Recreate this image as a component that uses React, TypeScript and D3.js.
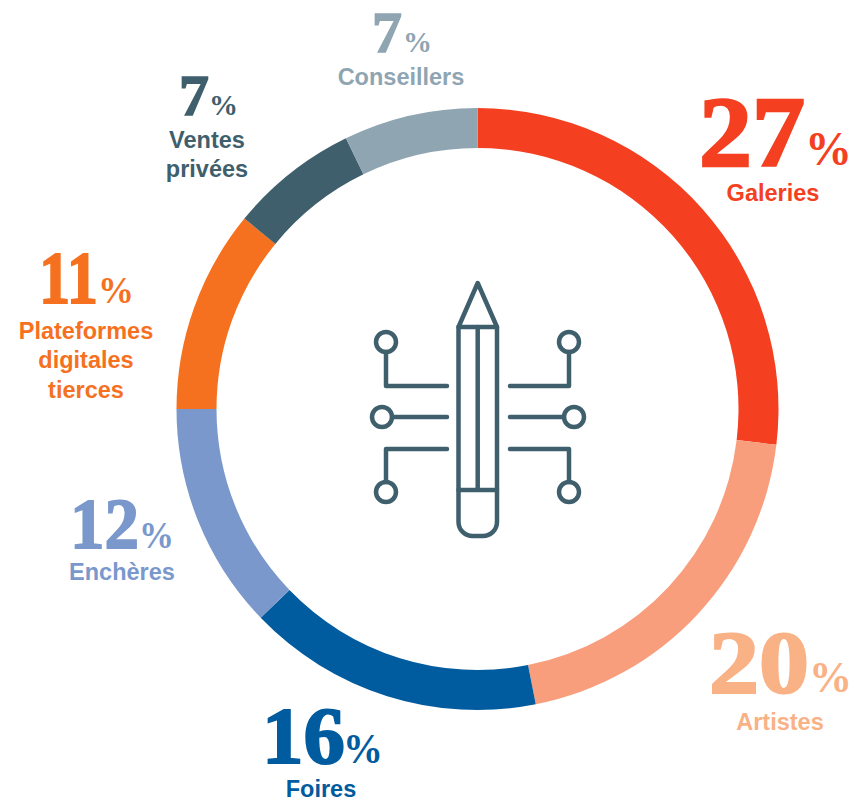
import React from "react";
import * as d3 from "d3";

const categories = ["Galeries", "Artistes", "Foires", "Enchères", "Plateformes digitales tierces", "Ventes privées", "Conseillers"];
const shares = [27, 20, 16, 12, 11, 7, 7];
// the ring's slices as measured on the picture (they differ slightly from the rounded labels)
const drawnShares = [26.9, 20.0, 15.9, 12.2, 10.9, 6.9, 7.2];
const colors = ["#f44021", "#f89e7d", "#005b9f", "#7a98cb", "#f6711f", "#3f5f6d", "#8fa5b2"];
const labelColors = ["#f44021", "#f9b186", "#005b9f", "#7a98cb", "#f6711f", "#3f5f6d", "#8fa5b2"];
const labelLines = [["Galeries"], ["Artistes"], ["Foires"], ["Enchères"], ["Plateformes", "digitales", "tierces"], ["Ventes", "privées"], ["Conseillers"]];

// layout of each label: number x/baseline/size/width; % x/size/width; text centre x and baselines
const labelLayout = [
  { nx: 699, ny: 165, ns: 100, nw: 106, px: 805, ps: 48, pw: 47, tx: 773, ty: [201] },
  { nx: 709, ny: 692, ns: 88, nw: 100, px: 809, ps: 44, pw: 43, tx: 780, ty: [730] },
  { nx: 262, ny: 763, ns: 81, nw: 83, px: 343, ps: 42, pw: 40, tx: 321, ty: [797] },
  { nx: 70, ny: 548, ns: 71, nw: 69, px: 139, ps: 37, pw: 35, tx: 122, ty: [580] },
  { nx: 39, ny: 303, ns: 74, nw: 59, px: 98, ps: 38, pw: 36, tx: 86, ty: [339, 368, 398] },
  { nx: 179, ny: 115, ns: 57, nw: 30, px: 209, ps: 30, pw: 29, tx: 207, ty: [148, 177] },
  { nx: 372, ny: 52, ns: 57, nw: 30, px: 403, ps: 30, pw: 29, tx: 401, ty: [85] },
];

const cx = 477.5;
const cy = 409;
const outerR = 301;
const innerR = 261;
const iconColor = "#3f5f6d";

const pie = d3.pie<number>().sort(null).value((d) => d);
const arc = d3.arc<d3.PieArcDatum<number>>().innerRadius(innerR).outerRadius(outerR);
const arcs = pie(drawnShares);

const serif = "'Liberation Serif', serif";
const sans = "'Liberation Sans', sans-serif";

function Icon() {
  const common = { fill: "none", stroke: iconColor, strokeWidth: 4.5, strokeLinecap: "round" as const, strokeLinejoin: "round" as const };
  const nodes = [[386, 342], [569, 342], [382, 417], [574, 417], [386, 492], [569, 492]];
  return (
    <g {...common}>
      <path d="M458.5 327 L477.7 283 L497 327 Z" />
      <path d="M458.5 327 V522 a14 14 0 0 0 14 14 h10.5 a14 14 0 0 0 14 -14 V327" />
      <path d="M477.7 327 V490 M458.5 490 H497" />
      <path d="M386 352 V386 H447 M569 352 V386 H510" />
      <path d="M392 417 H447 M564 417 H510" />
      <path d="M386 482 V449 H447 M569 482 V449 H510" />
      {nodes.map(([x, y], i) => (
        <circle key={i} cx={x} cy={y} r={10} />
      ))}
    </g>
  );
}

export default function App() {
  return (
    <svg width={854} height={801} style={{ position: "absolute", left: 0, top: 0, background: "#fff" }}>
      <g transform={`translate(${cx},${cy})`}>
        {arcs.map((a, i) => (
          <path key={categories[i]} d={arc(a) ?? ""} fill={colors[i]} />
        ))}
      </g>
      <Icon />
      {shares.map((v, i) => {
        const l = labelLayout[i];
        const c = labelColors[i];
        return (
          <g key={categories[i]} fill={c}>
            <text x={l.nx} y={l.ny} fontFamily={serif} fontWeight={700} fontSize={l.ns} textLength={l.nw} lengthAdjust="spacingAndGlyphs" stroke={c} strokeWidth={l.ns * 0.025}>
              {v}
            </text>
            <text x={l.px} y={l.ny} fontFamily={serif} fontWeight={700} fontSize={l.ps} textLength={l.pw} lengthAdjust="spacingAndGlyphs">
              %
            </text>
            {labelLines[i].map((t, j) => (
              <text key={t} x={l.tx} y={l.ty[j]} textAnchor="middle" fontFamily={sans} fontWeight={700} fontSize={23.5}>
                {t}
              </text>
            ))}
          </g>
        );
      })}
    </svg>
  );
}
